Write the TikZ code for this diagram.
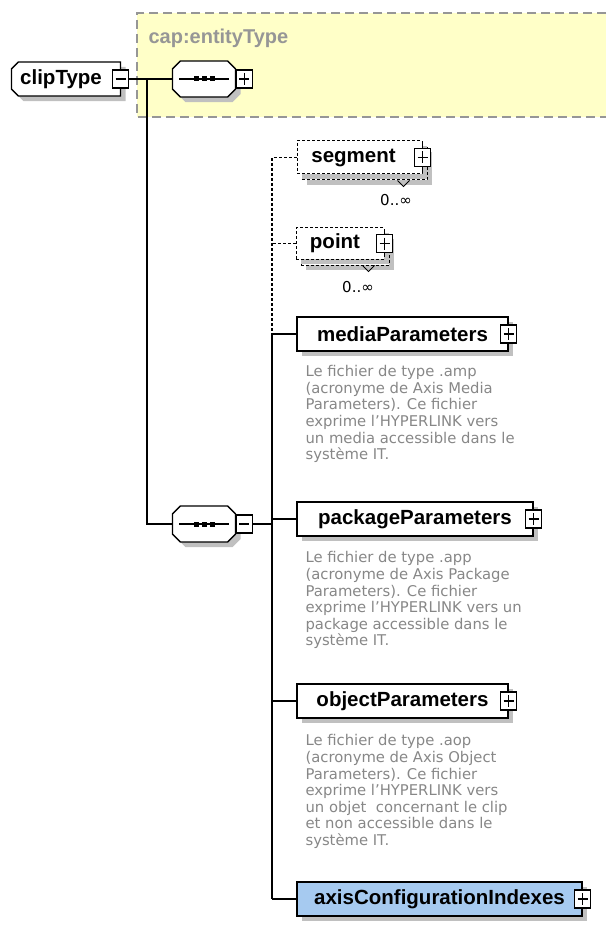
\documentclass[tikz,border=0pt]{standalone}
\usepackage{fontspec}
\setmainfont{Liberation Sans}
\newfontfamily\descfont{DejaVu Sans}
\usetikzlibrary{shadows,positioning}
\definecolor{capyellow}{RGB}{255,255,200}
\definecolor{capgrey}{RGB}{150,150,150}
\definecolor{descgrey}{RGB}{135,135,135}
\definecolor{shadowgrey}{RGB}{192,192,192}
\definecolor{axisblue}{RGB}{166,202,240}
% chamfered outline round a node: #1 node, #2 left chamfer, #3 right chamfer
\newcommand{\champath}[3]{([xshift=#2]#1.north west) -- ([xshift=-#3]#1.north east) -- ([yshift=-#3]#1.north east) -- ([yshift=#3]#1.south east) -- ([xshift=-#3]#1.south east) -- ([xshift=#2]#1.south west) -- ([yshift=#2]#1.south west) -- ([yshift=-#2]#1.north west) -- cycle}
\newcommand{\chamshape}[3]{%
  \fill[shadowgrey, transform canvas={xshift=5pt, yshift=-5pt}] \champath{#1}{#2}{#3};
  \filldraw[fill=white, line width=1.3pt] \champath{#1}{#2}{#3};}
\newcommand{\seqdots}[1]{%
  \draw[line width=1.3pt] ([xshift=7pt]#1.west) -- ([xshift=-7pt]#1.east);
  \foreach \dx in {-8,0,8}
    \fill ([xshift=\dx pt]#1.center) +(-2.5pt,-2.5pt) rectangle +(2.5pt,2.5pt);}
\tikzstyle{shade}=[drop shadow={shadow xshift=5pt, shadow yshift=-5pt, fill=shadowgrey, opacity=1}]
\tikzstyle{elem}=[draw, line width=1.3pt, fill=white, rectangle, minimum height=34pt, inner sep=0pt, font=\bfseries\fontsize{20.5}{20.5}\selectfont, shade]
\tikzstyle{optelem}=[elem, dash pattern=on 3pt off 2pt, line width=1pt]
\tikzstyle{optback}=[optelem]
\tikzstyle{geom}=[inner sep=0pt, minimum width=62pt, minimum height=35pt]
\tikzstyle{label}=[inner sep=0pt, font=\bfseries\fontsize{20.5}{20.5}\selectfont]
\tikzstyle{pmbox}=[draw, line width=1.1pt, fill=white, minimum width=16pt, minimum height=18pt, inner sep=0pt]
\tikzstyle{plus}=[pmbox, path picture={\draw[line width=1.1pt] ([xshift=3pt]path picture bounding box.west) -- ([xshift=-3pt]path picture bounding box.east) ([yshift=-3pt]path picture bounding box.north) -- ([yshift=3pt]path picture bounding box.south);}]
\tikzstyle{minus}=[pmbox, path picture={\draw[line width=1.1pt] ([xshift=3pt]path picture bounding box.west) -- ([xshift=-3pt]path picture bounding box.east);}]
\tikzstyle{desc}=[anchor=north west, inner sep=0pt, align=left, text=descgrey, font=\descfont\fontsize{14.8}{16.6}\selectfont]
\tikzstyle{card}=[inner sep=0pt, font=\descfont\fontsize{15}{15}\selectfont]
\begin{document}
\begin{tikzpicture}[x=1pt, y=-1pt, line width=1.1pt]
\useasboundingbox (0,0) rectangle (606,925);
% cap:entityType
\fill[capyellow] (137,13) rectangle (606,117);
\draw[capgrey, line width=1.5pt, dash pattern=on 9pt off 5pt] (606,13) -- (137,13) -- (137,117) -- (606,117);
\node[anchor=west, inner sep=0pt, text=capgrey, font=\bfseries\fontsize{20}{20}\selectfont] (captitle) at (148,38) {cap:entityType};
% clipType
\node[geom, minimum width=108pt, minimum height=33pt] (clipType) at (66,79) {};
\chamshape{clipType}{7pt}{0pt}
\node[label] (clipTypeLabel) at ([xshift=-5pt]clipType.center) {clipType};
\node[minus] (clipminus) at (clipType.east) {};
\node[geom] (seq1) at (204,79) {};
\chamshape{seq1}{8pt}{8pt}
\seqdots{seq1}
\node[plus, anchor=west] (seq1plus) at (seq1.east) {};
\node[geom] (seq2) at (204,524) {};
\chamshape{seq2}{8pt}{8pt}
\seqdots{seq2}
\node[minus, anchor=west] (seq2minus) at (seq2.east) {};
\coordinate (j1) at (147,79);
\coordinate (bus) at (272,0);
\draw (clipminus.east) -- (seq1.west);
\draw (j1) |- (seq2.west);
% optional children
\node[optback, minimum width=125pt, minimum height=33pt] (segback) at (364.5,163.5) {};
\node[optelem, fill=white, minimum width=125pt, minimum height=33pt, drop shadow={opacity=0}] (segment) at (359.5,157.5) {\hspace{-12pt}segment};
\node[plus] (segplus) at (segment.east) {};
\draw (segplus.north) -- +(0,-4) (segplus.south) -- +(0,4);
\draw[line width=1pt] ([xshift=-30pt]segback.south east) -- ++(6,6) -- ++(6,-6);
\node[card] (segcard) at (396,200) {0..∞};
\node[optback, minimum width=88pt, minimum height=31pt] (pointback) at (345,249.5) {};
\node[optelem, fill=white, minimum width=88pt, minimum height=31pt, drop shadow={opacity=0}] (point) at (340,243.5) {\hspace{-10pt}point};
\node[plus] (pointplus) at (point.east) {};
\draw (pointplus.north) -- +(0,-4) (pointplus.south) -- +(0,4);
\draw[line width=1pt] ([xshift=-27pt]pointback.south east) -- ++(6,6) -- ++(6,-6);
\node[card] (pointcard) at (358,287) {0..∞};
% children
\node[elem, minimum width=211pt] (mediaParameters) at (402.5,334) {mediaParameters};
\node[plus] (mediaplus) at (mediaParameters.east) {};
\node[desc] (mediadesc) at (305,365) {Le fichier de type .amp\\(acronyme de Axis Media\\Parameters). Ce fichier\\exprime l’HYPERLINK vers\\un media accessible dans le\\système IT.};
\node[elem, minimum width=236pt] (packageParameters) at (415,519) {packageParameters};
\node[plus] (packageplus) at (packageParameters.east) {};
\node[desc] (packagedesc) at (305,551) {Le fichier de type .app\\(acronyme de Axis Package\\Parameters). Ce fichier\\exprime l’HYPERLINK vers un\\package accessible dans le\\système IT.};
\node[elem, minimum width=211pt] (objectParameters) at (402.5,701) {objectParameters};
\node[plus] (objectplus) at (objectParameters.east) {};
\node[desc] (objectdesc) at (305,734) {Le fichier de type .aop\\(acronyme de Axis Object\\Parameters). Ce fichier\\exprime l’HYPERLINK vers\\un objet \ concernant le clip\\et non accessible dans le\\système IT.};
\node[elem, fill=axisblue, minimum width=285pt] (axisConfigurationIndexes) at (439.5,899) {axisConfigurationIndexes};
\node[plus] (axisplus) at (axisConfigurationIndexes.east) {};
% connectors
\draw (seq2minus.east) -- (seq2minus.east -| bus);
\draw[dash pattern=on 3pt off 2pt] (segment.west) -- (segment.west -| bus) -- (mediaParameters.west -| bus);
\draw[dash pattern=on 3pt off 2pt] (point.west) -- (point.west -| bus);
\draw (mediaParameters.west -| bus) -- (axisConfigurationIndexes.west -| bus);
\foreach \n in {mediaParameters,packageParameters,objectParameters,axisConfigurationIndexes}
  \draw (\n.west -| bus) -- (\n.west);
\end{tikzpicture}
\end{document}
